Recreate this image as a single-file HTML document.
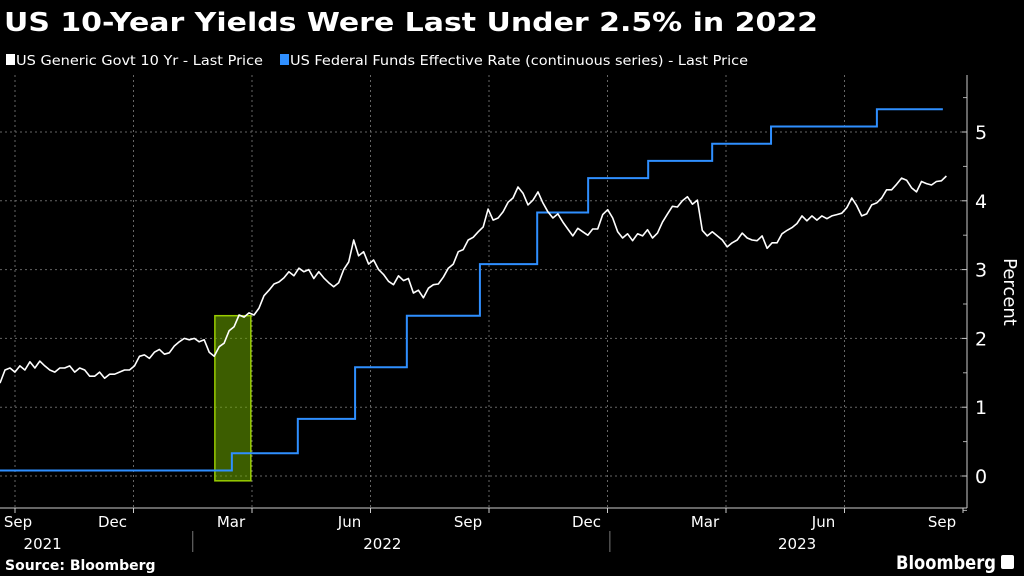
<!DOCTYPE html>
<html><head><meta charset="utf-8"><style>
body{margin:0;background:#000;width:1024px;height:576px;overflow:hidden;font-family:"DejaVu Sans","Liberation Sans",sans-serif;color:#fff}
</style></head><body>
<svg width="1024" height="576" viewBox="0 0 1024 576" style="display:block" font-family="DejaVu Sans, Liberation Sans, sans-serif">
<text x="4" y="31" font-size="26" font-weight="bold" fill="#fff" textLength="814" lengthAdjust="spacingAndGlyphs">US 10-Year Yields Were Last Under 2.5% in 2022</text>
<g font-size="13" fill="#fff">
<rect x="6" y="54" width="9" height="11" fill="#fff"/>
<text x="16" y="65" textLength="247" lengthAdjust="spacingAndGlyphs">US Generic Govt 10 Yr - Last Price</text>
<rect x="280" y="54" width="9" height="11" fill="#2f8fff"/>
<text x="290" y="65" textLength="458" lengthAdjust="spacingAndGlyphs">US Federal Funds Effective Rate (continuous series) - Last Price</text>
</g>
<g id="grid"></g>
<g id="axes"></g>
<g id="marks"></g>
<text transform="translate(1004,292) rotate(90)" text-anchor="middle" font-size="18" fill="#fff">Percent</text>
<text x="5" y="570" font-size="14" font-weight="bold" fill="#fff">Source: Bloomberg</text>
<text x="896" y="569" font-size="19" font-weight="bold" fill="#fff" textLength="100" lengthAdjust="spacingAndGlyphs">Bloomberg</text>
<rect x="1001" y="555" width="13" height="14" rx="2" fill="#fff"/>
</svg>
<script>
const yTicks=[0,1,2,3,4,5];
const xTickLabels=["Sep","Dec","Mar","Jun","Sep","Dec","Mar","Jun","Sep"];
const xTickMonths=[0,3,6,9,12,15,18,21,24];
const yearLabels=["2021","2022","2023"];
const yearMonths=[0.7,9.3,19.8];
const yearSeparators=[4.5,15.06];
const tenYr=[1.35,1.54,1.57,1.51,1.60,1.54,1.66,1.57,1.67,1.60,1.54,1.51,1.57,1.57,1.60,1.51,1.57,1.54,1.45,1.45,1.51,1.42,1.48,1.48,1.51,1.54,1.54,1.60,1.74,1.76,1.71,1.80,1.84,1.77,1.79,1.89,1.95,2.00,1.98,2.00,1.95,1.98,1.80,1.74,1.88,1.93,2.11,2.17,2.34,2.31,2.37,2.34,2.44,2.62,2.70,2.79,2.82,2.88,2.97,2.91,3.02,2.97,3.00,2.87,2.97,2.88,2.81,2.75,2.81,3.00,3.11,3.43,3.20,3.26,3.08,3.14,3.00,2.93,2.83,2.78,2.91,2.84,2.87,2.66,2.70,2.59,2.73,2.78,2.79,2.89,3.02,3.08,3.26,3.29,3.43,3.47,3.55,3.62,3.88,3.72,3.75,3.84,3.98,4.04,4.20,4.11,3.94,4.01,4.13,3.97,3.84,3.75,3.81,3.69,3.59,3.49,3.60,3.55,3.50,3.59,3.59,3.80,3.87,3.75,3.55,3.46,3.52,3.42,3.52,3.49,3.58,3.46,3.53,3.69,3.81,3.92,3.91,4.00,4.06,3.95,4.01,3.57,3.49,3.55,3.49,3.43,3.33,3.39,3.43,3.53,3.46,3.43,3.42,3.49,3.31,3.39,3.39,3.52,3.57,3.61,3.67,3.78,3.71,3.78,3.72,3.78,3.74,3.78,3.80,3.82,3.90,4.04,3.93,3.78,3.81,3.94,3.97,4.04,4.16,4.16,4.24,4.33,4.30,4.19,4.13,4.28,4.25,4.23,4.28,4.29,4.36];
const tenYrStart=-0.38, tenYrEnd=23.58;
const fedStepMonths=[-0.38,5.49,7.16,8.61,9.92,11.77,13.22,14.51,16.03,17.65,19.14,21.82,23.49];
const fedStepValues=[0.08,0.33,0.83,1.58,2.33,3.08,3.83,4.33,4.58,4.83,5.08,5.33,5.33];
const highlightStart=5.06, highlightEnd=5.97;
const highlightLow=-0.07, highlightHigh=2.33;

const NS="http://www.w3.org/2000/svg";
function xs(m){return 15+m*39.5;}
function ys(v){return 476-v*68.8;}
function mk(tag,attrs,parent){const e=document.createElementNS(NS,tag);for(const k in attrs)e.setAttribute(k,attrs[k]);parent.appendChild(e);return e;}
const grid=document.getElementById('grid'),axes=document.getElementById('axes'),marks=document.getElementById('marks');
yTicks.forEach(t=>{
 const l=mk('line',{x1:0,x2:965,y1:ys(t),y2:ys(t),stroke:'#666','stroke-dasharray':'2,3','stroke-width':1},grid);
 
 
 const tk=mk('line',{x1:962,x2:967,y1:ys(t),y2:ys(t),stroke:'#ccc'},axes);
 
 
 const tx=mk('text',{x:975,y:ys(t)+7,'font-size':19,fill:'#fff'},axes);
 tx.textContent=t;
 
 
});
for(let t=-0.5;t<=5.5;t+=1){const m=mk('line',{x1:963,x2:967,y1:ys(t),y2:ys(t),stroke:'#aaa'},axes);
 
 }
xTickMonths.forEach((m,i)=>{
 if(i<8){const g=mk('line',{x1:xs(m),x2:xs(m),y1:75,y2:508,stroke:'#666','stroke-dasharray':'2,3'},grid);
 
 }
 const tk=mk('line',{x1:xs(m),x2:xs(m),y1:508,y2:513,stroke:'#ccc'},axes);
 
 
 const tx=mk('text',{x:i==0?18:xs(m)-21,y:527,'font-size':15,fill:'#fff','text-anchor':'middle'},axes);
 tx.textContent=xTickLabels[i];
 
 
});
yearLabels.forEach((y,i)=>{const tx=mk('text',{x:xs(yearMonths[i]),y:549,'font-size':15,fill:'#fff','text-anchor':'middle'},axes);
 tx.textContent=y;
 
 });
yearSeparators.forEach(m=>{const s=mk('line',{x1:xs(m),x2:xs(m),y1:531,y2:552,stroke:'#777'},axes);
 
 });
const ax=mk('line',{x1:967,x2:967,y1:75,y2:508,stroke:'#ccc'},axes);


const bx=mk('line',{x1:0,x2:967,y1:508,y2:508,stroke:'#ccc'},axes);


const hl=mk('rect',{x:xs(highlightStart),y:ys(highlightHigh),width:xs(highlightEnd)-xs(highlightStart),height:ys(highlightLow)-ys(highlightHigh),fill:'rgba(110,170,0,0.55)',stroke:'#9c0','stroke-width':1.5},marks);


let d='';
for(let i=0;i<fedStepMonths.length;i++){const x=xs(fedStepMonths[i]),y=ys(fedStepValues[i]);
 d+=i==0?`M${x},${y}`:`H${x}V${y}`;}
const fed=mk('path',{d:d,fill:'none',stroke:'#2f8fff','stroke-width':2},marks);


let w='';const n=tenYr.length;
tenYr.forEach((v,i)=>{const m=tenYrStart+(tenYrEnd-tenYrStart)*i/(n-1);w+=(i?'L':'M')+xs(m).toFixed(1)+','+ys(v).toFixed(1);});
const ty=mk('path',{d:w,fill:'none',stroke:'#fff','stroke-width':1.6,'stroke-linejoin':'round'},marks);


</script>
</body></html>
